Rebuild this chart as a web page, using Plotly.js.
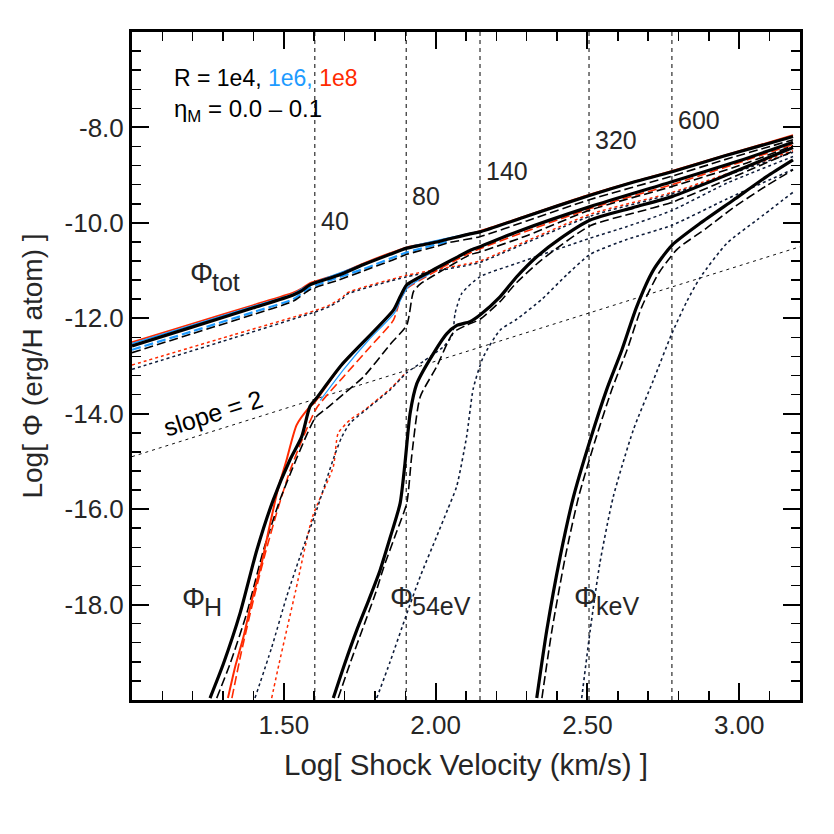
<!DOCTYPE html>
<html><head><meta charset="utf-8">
<script src="https://cdn.plot.ly/plotly-3.0.1.min.js"></script>
<style>html,body{margin:0;padding:0;background:#fff}#chart{width:834px;height:834px}</style>
</head><body><div id="chart"></div>
<script>
// ---------- data ----------
const velocities = [40, 80, 140, 320, 600];
const velocityLabels = ['40', '80', '140', '320', '600'];
const velocityLabelY = [-9.96, -9.44, -8.91, -8.26, -7.84];

const slopeX = [1.0, 3.2];
const slopeY = [-14.9, -10.5];

const xTickVals = [1.5, 2.0, 2.5, 3.0];
const xTickText = ['1.50', '2.00', '2.50', '3.00'];
const yTickVals = [-18, -16, -14, -12, -10, -8];
const yTickText = ['-18.0', '-16.0', '-14.0', '-12.0', '-10.0', '-8.0'];

// Phi_tot
const totSolidX = [1.00,1.20,1.40,1.531,1.56,1.586,1.68,1.761,1.85,1.905,1.95,2.005,2.113,2.146,2.30,2.509,2.65,2.779,2.95,3.177];
const totSolidY = [-12.58,-12.18,-11.78,-11.51,-11.42,-11.30,-11.10,-10.88,-10.66,-10.53,-10.47,-10.40,-10.23,-10.19,-9.86,-9.42,-9.15,-8.93,-8.60,-8.19];
const totRedX = [1.00,1.20,1.40,1.531,1.56,1.586,1.68,1.761,1.85,1.905,2.005,2.146,2.509,2.779,3.177];
const totRedY = [-12.50,-12.11,-11.72,-11.46,-11.37,-11.26,-11.07,-10.85,-10.63,-10.51,-10.38,-10.17,-9.40,-8.91,-8.16];
const totBlueX = [1.00,1.20,1.40,1.531,1.586,1.761,1.905,2.146];
const totBlueY = [-12.53,-12.14,-11.75,-11.49,-11.29,-10.87,-10.52,-10.18];
const totDashX = [1.00,1.20,1.40,1.531,1.586,1.68,1.761,1.85,1.905,2.005,2.047,2.146,2.30,2.509,2.779,2.95,3.177];
const totDashY = [-12.72,-12.32,-11.92,-11.64,-11.40,-11.20,-11.01,-10.80,-10.66,-10.49,-10.41,-10.29,-9.96,-9.51,-9.02,-8.68,-8.26];
const totBlueDashX = [1.00,1.20,1.40,1.531,1.586,1.761,1.905,2.047];
const totBlueDashY = [-12.66,-12.27,-11.87,-11.60,-11.36,-10.97,-10.62,-10.38];
const totDotRedX = [1.00,1.30,1.602,1.652,1.695,1.707,1.905,2.113,2.146,2.509,2.779,3.177];
const totDotRedY = [-12.98,-12.41,-11.84,-11.72,-11.55,-11.47,-11.10,-10.85,-10.80,-9.82,-9.36,-8.49];
const totDotX = [1.00,1.30,1.602,1.652,1.695,1.707,1.905,2.113,2.146,2.509,2.779,3.177];
const totDotY = [-13.07,-12.48,-11.87,-11.75,-11.58,-11.50,-11.13,-10.88,-10.83,-9.86,-9.39,-8.52];

// Phi_H
const hSolidX = [1.257,1.301,1.356,1.411,1.465,1.52,1.559,1.586,1.608,1.69,1.861,1.883,1.905,1.982,2.047,2.113,2.146,2.267,2.509,2.778,3.0,3.177];
const hSolidY = [-19.96,-19.24,-18.18,-16.86,-15.81,-14.97,-14.48,-13.85,-13.67,-12.98,-11.83,-11.55,-11.30,-11.02,-10.80,-10.58,-10.50,-10.19,-9.66,-9.14,-8.70,-8.31];
const hRedX = [1.316,1.34,1.367,1.395,1.427,1.455,1.48,1.509,1.542,1.581,1.603,1.69,1.861,1.883,1.905,1.982,2.113];
const hRedY = [-19.96,-19.3,-18.68,-17.9,-17.13,-16.3,-15.6,-14.97,-14.24,-13.89,-13.75,-12.98,-11.83,-11.55,-11.30,-11.02,-10.58];
const hBlueX = [1.62,1.70,1.78,1.865,1.887,1.91,1.98];
const hBlueY = [-13.72,-13.05,-12.45,-11.88,-11.58,-11.34,-11.07];
const hDashX = [1.279,1.323,1.378,1.433,1.487,1.54,1.575,1.603,1.65,1.696,1.762,1.85,1.905,1.927,1.95,2.0,2.113,2.146,2.30,2.509,2.778,3.0,3.177];
const hDashY = [-19.96,-19.24,-18.18,-16.86,-15.81,-14.97,-14.45,-14.09,-13.84,-13.59,-13.23,-12.55,-12.14,-11.44,-11.28,-11.08,-10.67,-10.61,-10.27,-9.73,-9.24,-8.80,-8.38];
const hRedDashX = [1.329,1.36,1.40,1.44,1.48,1.52,1.56,1.608,1.696,1.784,1.861,1.883,1.905,1.982,2.113,2.509,2.778,3.177];
const hRedDashY = [-19.96,-19.0,-17.9,-16.9,-16.0,-15.2,-14.55,-13.88,-13.23,-12.6,-12.04,-11.62,-11.38,-11.08,-10.63,-9.70,-9.20,-8.36];
const hDotX = [1.405,1.46,1.509,1.553,1.608,1.663,1.69,1.718,1.762,1.85,1.905,1.96,2.025,2.055,2.064,2.086,2.146,2.267,2.509,2.629,2.778,2.959,3.177];
const hDotY = [-19.96,-18.9,-17.84,-17.0,-16.02,-14.95,-14.5,-14.20,-13.96,-13.5,-13.14,-12.9,-12.6,-12.35,-11.9,-11.48,-11.13,-10.85,-10.32,-10.08,-9.74,-9.17,-8.61];
const hDotRedX = [1.46,1.484,1.539,1.594,1.663,1.679,1.718,1.762,1.85,1.905];
const hDotRedY = [-19.96,-19.25,-17.71,-16.17,-15.11,-14.41,-14.13,-13.94,-13.48,-13.12];

// Phi_54eV
const sSolidX = [1.663,1.70,1.74,1.78,1.817,1.85,1.883,1.899,1.916,1.938,1.982,2.037,2.07,2.113,2.146,2.212,2.267,2.333,2.41,2.509,2.65,2.778,2.95,3.177];
const sSolidY = [-19.96,-19.25,-18.54,-17.9,-17.28,-16.6,-15.88,-15.04,-13.99,-13.37,-12.85,-12.32,-12.15,-12.07,-11.93,-11.55,-11.13,-10.71,-10.33,-9.94,-9.68,-9.45,-9.02,-8.42];
const sDashX = [1.679,1.72,1.76,1.80,1.83,1.87,1.905,1.921,1.949,2.003,2.058,2.10,2.146,2.212,2.267,2.35,2.509,2.65,2.778,2.95,3.177];
const sDashY = [-19.96,-19.2,-18.5,-17.8,-17.2,-16.5,-15.87,-14.90,-13.65,-13.02,-12.30,-12.15,-12.02,-11.65,-11.25,-10.77,-10.06,-9.80,-9.57,-9.12,-8.50];
const sDotX = [1.806,1.85,1.905,1.95,2.003,2.04,2.069,2.102,2.124,2.157,2.212,2.267,2.35,2.43,2.509,2.629,2.778,2.959,3.177];
const sDotY = [-19.96,-19.2,-18.19,-17.4,-16.58,-16.0,-15.53,-14.48,-13.47,-12.81,-12.25,-12.02,-11.6,-11.1,-10.66,-10.35,-10.05,-9.5,-8.88];

// Phi_keV
const kSolidX = [2.333,2.366,2.41,2.454,2.509,2.563,2.613,2.662,2.717,2.778,2.871,2.981,3.09,3.177];
const kSolidY = [-19.96,-18.54,-17.0,-15.74,-14.55,-13.50,-12.67,-11.76,-10.99,-10.47,-10.01,-9.52,-9.03,-8.68];
const kDashX = [2.35,2.383,2.427,2.471,2.526,2.58,2.63,2.679,2.735,2.796,2.89,2.981,3.09,3.177];
const kDashY = [-19.96,-18.54,-17.0,-15.74,-14.55,-13.50,-12.67,-11.76,-11.05,-10.55,-10.12,-9.68,-9.22,-8.89];
const kDotX = [2.481,2.509,2.541,2.585,2.651,2.717,2.778,2.827,2.871,2.959,3.058,3.177];
const kDotY = [-19.96,-18.54,-17.13,-15.74,-14.34,-13.30,-12.32,-11.65,-11.15,-10.43,-9.94,-9.36];

// ---------- styles ----------
const BLACK = '#000000', RED = '#ff2a00', BLUE = '#1e9bff', NAVY = '#0e1c3a';
const FONT = 'Liberation Sans, Arial, Helvetica, sans-serif';
const TXT = '#262626';

function tr(x, y, color, width, dash) {
  return {x: x, y: y, type: 'scatter', mode: 'lines', hoverinfo: 'skip',
          line: {color: color, width: width, dash: dash || 'solid', shape: 'spline', smoothing: 0.6}};
}
const SOLID = 3.2, THIN = 1.6;
const DASH = '9px,4px', DOT = '3px,3px';

const traces = [];
// vertical velocity markers
velocities.forEach(v => {
  const lx = Math.log10(v);
  traces.push({x: [lx, lx], y: [-20, -6], type: 'scatter', mode: 'lines', hoverinfo: 'skip',
               line: {color: '#1a1a1a', width: 1.1, dash: '4px,4px'}});
});
// slope = 2 reference
traces.push({x: slopeX, y: slopeY, type: 'scatter', mode: 'lines', hoverinfo: 'skip',
             line: {color: '#111', width: 1, dash: '3px,4px'}});

// dotted curves
traces.push(tr(totDotRedX, totDotRedY, RED, 1.5, DOT));
traces.push(tr(totDotX, totDotY, NAVY, 1.5, DOT));
traces.push(tr(hDotRedX, hDotRedY, RED, 1.5, DOT));
traces.push(tr(hDotX, hDotY, NAVY, 1.5, DOT));
traces.push(tr(sDotX, sDotY, NAVY, 1.6, DOT));
traces.push(tr(kDotX, kDotY, NAVY, 1.6, DOT));
// dashed curves
traces.push(tr(totBlueDashX, totBlueDashY, BLUE, THIN + 0.6, DASH));
traces.push(tr(totDashX, totDashY, BLACK, THIN, DASH));
traces.push(tr(hRedDashX, hRedDashY, RED, THIN, DASH));
traces.push(tr(hDashX, hDashY, BLACK, THIN, DASH));
traces.push(tr(sDashX, sDashY, BLACK, THIN, DASH));
traces.push(tr(kDashX, kDashY, BLACK, THIN, DASH));
// thin coloured solids
traces.push(tr(totRedX, totRedY, RED, THIN, 'solid'));
traces.push(tr(totBlueX, totBlueY, BLUE, THIN, 'solid'));
traces.push(tr(hRedX, hRedY, RED, 2, 'solid'));
traces.push(tr(hBlueX, hBlueY, BLUE, 1.2, 'solid'));
// thick black solids
traces.push(tr(totSolidX, totSolidY, BLACK, SOLID, 'solid'));
traces.push(tr(hSolidX, hSolidY, BLACK, SOLID, 'solid'));
traces.push(tr(sSolidX, sSolidY, BLACK, SOLID, 'solid'));
traces.push(tr(kSolidX, kSolidY, BLACK, SOLID, 'solid'));

// ---------- annotations ----------
const ann = [];
velocities.forEach((v, i) => {
  ann.push({x: Math.log10(v), y: velocityLabelY[i], xref: 'x', yref: 'y', text: velocityLabels[i],
            showarrow: false, xanchor: 'left', yanchor: 'middle', xshift: 4,
            font: {family: FONT, size: 25, color: TXT}});
});
function phi(x, y, sub) {
  ann.push({x: x, y: y, xref: 'x', yref: 'y', text: 'Φ', showarrow: false, xanchor: 'left', yanchor: 'middle',
            font: {family: FONT, size: 29, color: TXT}});
  ann.push({x: x, y: y, xref: 'x', yref: 'y', text: sub, showarrow: false, xanchor: 'left', yanchor: 'middle',
            xshift: 22, yshift: -9, font: {family: FONT, size: 25, color: TXT}});
}
phi(1.184, -11.05, 'tot');
phi(1.158, -17.87, 'H');
phi(1.843, -17.85, '54eV');
phi(2.449, -17.85, 'keV');

ann.push({x: 1.132, y: -6.96, xref: 'x', yref: 'y', xanchor: 'left', yanchor: 'middle', showarrow: false,
          text: 'R = 1e4, <span style="color:' + BLUE + '">1e6,</span> <span style="color:' + RED + '">1e8</span>',
          font: {family: FONT, size: 23, color: '#000'}});
ann.push({x: 1.132, y: -7.64, xref: 'x', yref: 'y', xanchor: 'left', yanchor: 'middle', showarrow: false,
          text: 'η<sub>M</sub> = 0.0 – 0.1', font: {family: FONT, size: 24, color: '#000'}});
ann.push({x: 1.267, y: -13.99, xref: 'x', yref: 'y', showarrow: false, textangle: -17.4,
          text: 'slope = 2', font: {family: FONT, size: 25, color: '#000'}});

const axisCommon = {
  ticks: 'inside', ticklen: 17, tickwidth: 2, tickcolor: '#000',
  showline: true, linewidth: 3, linecolor: '#000', mirror: 'allticks',
  showgrid: false, zeroline: false,
  tickfont: {family: FONT, size: 26, color: TXT}
};

const layout = {
  width: 834, height: 834,
  margin: {l: 132, r: 34, t: 32, b: 134},
  paper_bgcolor: '#fff', plot_bgcolor: '#fff',
  showlegend: false, hovermode: false,
  xaxis: Object.assign({}, axisCommon, {
    range: [1.0, 3.2], tickmode: 'array', tickvals: xTickVals, ticktext: xTickText,
    minor: {tickmode: 'linear', tick0: 1.0, dtick: 0.1, ticks: 'inside', ticklen: 9, tickwidth: 1.5, tickcolor: '#000', showgrid: false},
    title: {text: 'Log[ Shock Velocity (km/s) ]', standoff: 16, font: {family: FONT, size: 29.5, color: TXT}}
  }),
  yaxis: Object.assign({}, axisCommon, {
    range: [-20, -6], tickmode: 'array', tickvals: yTickVals, ticktext: yTickText,
    minor: {tickmode: 'linear', tick0: -20, dtick: 0.4, ticks: 'inside', ticklen: 9, tickwidth: 1.5, tickcolor: '#000', showgrid: false},
    title: {text: 'Log[ Φ (erg/H atom) ]', standoff: 14, font: {family: FONT, size: 28, color: TXT}}
  }),
  annotations: ann
};

Plotly.newPlot('chart', traces, layout, {staticPlot: true, displayModeBar: false});
</script></body></html>
